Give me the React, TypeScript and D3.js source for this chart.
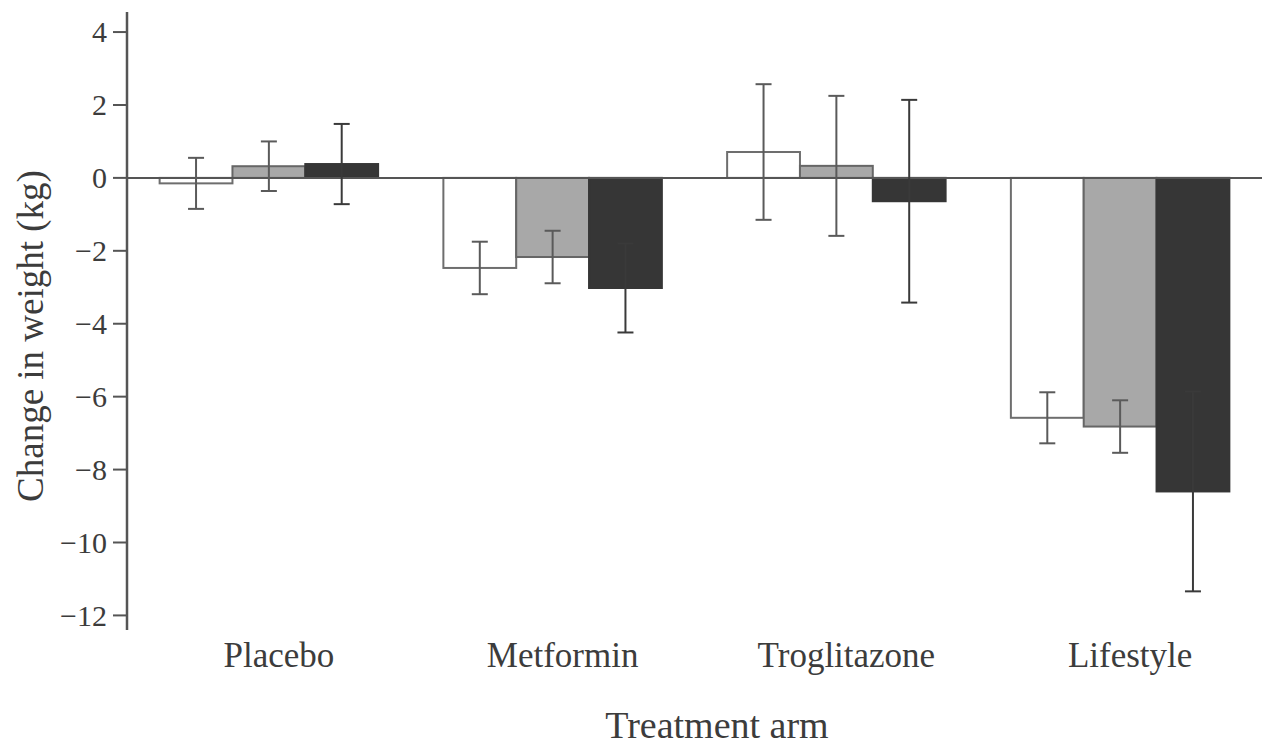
import React from 'react';
import * as d3 from 'd3';

// treatment arms on the x axis
const categories = ['Placebo', 'Metformin', 'Troglitazone', 'Lifestyle'];

// three bars per arm (white, grey, black), mean change in kg
const seriesNames = ['white', 'grey', 'black'];
const whiteValues = [-0.15, -2.47, 0.71, -6.58];
const greyValues = [0.32, -2.17, 0.33, -6.82];
const blackValues = [0.38, -3.02, -0.64, -8.6];

// half-length of error bars
const whiteErrors = [0.7, 0.72, 1.86, 0.7];
const greyErrors = [0.68, 0.72, 1.92, 0.72];
const blackErrors = [1.1, 1.22, 2.78, 2.74];

const yTicks = [4, 2, 0, -2, -4, -6, -8, -10, -12];

const fills = { white: '#ffffff', grey: '#a8a8a8', black: '#363636' };
const strokes = { white: '#6e6e6e', grey: '#666666', black: '#363636' };
// error bars on the black bars vanish inside the fill, like the scan
const errStrokes = { white: '#5a5a5a', grey: '#5a5a5a', black: '#3a3a3a' };

const W = 1268;
const H = 749;
const FONT = '"Liberation Serif", "Times New Roman", serif';
const INK = '#3c3c3c';

export default function App() {
	const margin = { top: 12, right: 6, bottom: 119, left: 127 };

	const values = { white: whiteValues, grey: greyValues, black: blackValues };
	const errors = { white: whiteErrors, grey: greyErrors, black: blackErrors };

	const data = categories.map((c, i) => ({
		arm: c,
		bars: seriesNames.map((s) => ({
			key: s,
			value: values[s][i],
			err: errors[s][i],
		})),
	}));

	// Scales
	const x0 = d3
		.scaleBand()
		.domain(categories)
		.range([margin.left, W - margin.right])
		.paddingInner(0.23)
		.paddingOuter(0.115);

	const x1 = d3
		.scaleBand()
		.domain(seriesNames)
		.range([0, x0.bandwidth()]);

	const y = d3
		.scaleLinear()
		.domain([-12.4, 4.55])
		.range([H - margin.bottom, margin.top]);

	const capW = 16;

	return (
		<svg
			width={W}
			height={H}
			style={{ display: 'block', background: '#fff' }}
			fontFamily={FONT}>
			<style>{'body{margin:0}'}</style>

			{/* Bars */}
			{data.map((g) => (
				<g key={g.arm} transform={`translate(${x0(g.arm)},0)`}>
					{g.bars.map((b) => (
						<rect
							key={b.key}
							x={x1(b.key)}
							y={y(Math.max(0, b.value))}
							width={x1.bandwidth()}
							height={Math.abs(y(b.value) - y(0))}
							fill={fills[b.key]}
							stroke={strokes[b.key]}
							strokeWidth={2}
						/>
					))}
				</g>
			))}

			{/* Zero line */}
			<line
				x1={margin.left}
				x2={W - margin.right}
				y1={y(0)}
				y2={y(0)}
				stroke='#555'
				strokeWidth={2}
			/>

			{/* Error bars */}
			{data.map((g) => (
				<g key={g.arm + '-err'} transform={`translate(${x0(g.arm)},0)`}>
					{g.bars.map((b) => {
						const cx = x1(b.key) + x1.bandwidth() / 2;
						const hi = y(b.value + b.err);
						const lo = y(b.value - b.err);
						return (
							<g key={b.key} stroke={errStrokes[b.key]} strokeWidth={2}>
								<line x1={cx} x2={cx} y1={hi} y2={lo} />
								<line x1={cx - capW / 2} x2={cx + capW / 2} y1={hi} y2={hi} />
								<line x1={cx - capW / 2} x2={cx + capW / 2} y1={lo} y2={lo} />
							</g>
						);
					})}
				</g>
			))}

			{/* Y axis */}
			<line
				x1={margin.left}
				x2={margin.left}
				y1={y.range()[1]}
				y2={y.range()[0]}
				stroke='#555'
				strokeWidth={2.5}
			/>
			{yTicks.map((t) => (
				<g key={t} transform={`translate(0,${y(t)})`}>
					<line x1={margin.left - 14} x2={margin.left} stroke='#555' strokeWidth={2} />
					<text
						x={margin.left - 20}
						dy='0.34em'
						textAnchor='end'
						fontSize={30}
						fill={INK}>
						{d3.format('')(t).replace('-', '\u2212')}
					</text>
				</g>
			))}

			{/* Category labels */}
			{categories.map((c) => (
				<text
					key={c}
					x={x0(c) + x0.bandwidth() / 2 + 10}
					y={667}
					textAnchor='middle'
					fontSize={35}
					fill={INK}>
					{c}
				</text>
			))}

			{/* Axis titles */}
			<text x={717} y={738} textAnchor='middle' fontSize={38} fill={INK}>
				Treatment arm
			</text>
			<text
				transform={`translate(43,${(165 + 507) / 2}) rotate(-90)`}
				textAnchor='middle'
				fontSize={37}
				fill={INK}>
				Change in weight (kg)
			</text>
		</svg>
	);
}
